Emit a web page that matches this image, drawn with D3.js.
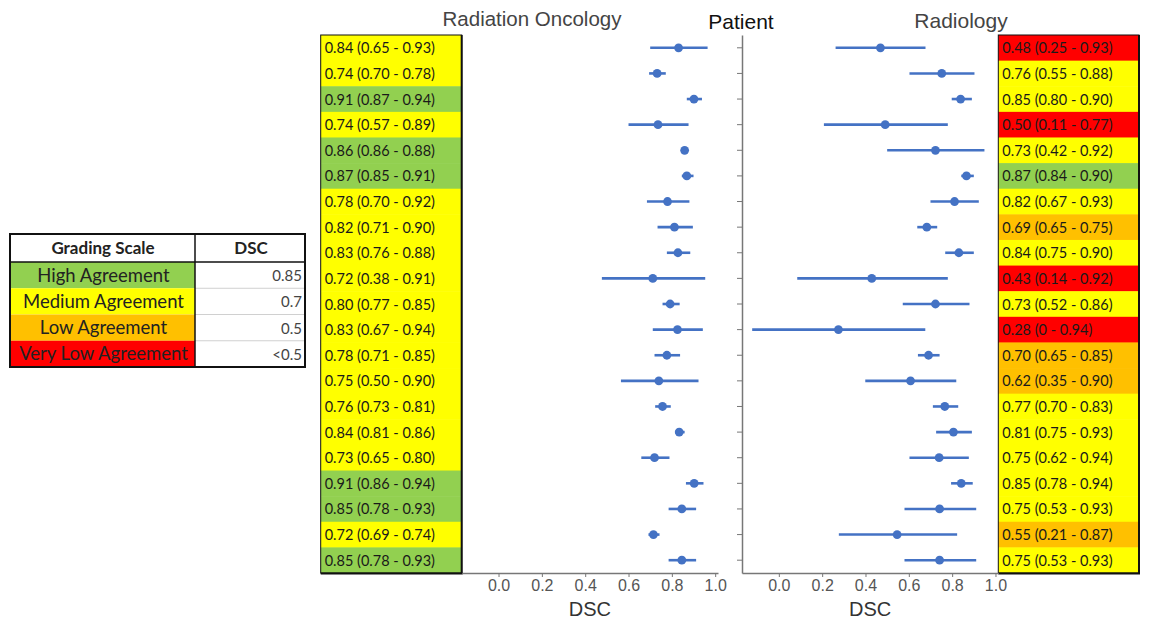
<!DOCTYPE html>
<html><head><meta charset="utf-8">
<script src="https://cdn.jsdelivr.net/npm/d3@7/dist/d3.min.js"></script>
<style>body{margin:0;background:#fff}svg{display:block}</style>
</head><body>
<svg id="c" width="1151" height="622"></svg>
<script>
const patients = d3.range(1, 22).map(String);

const roMean = [0.831,0.732,0.902,0.736,0.859,0.869,0.780,0.812,0.828,0.712,0.792,0.826,0.777,0.740,0.757,0.834,0.720,0.903,0.846,0.715,0.846];
const roLo   = [0.700,0.695,0.869,0.600,0.850,0.846,0.685,0.734,0.777,0.477,0.757,0.712,0.720,0.565,0.723,0.815,0.659,0.865,0.785,0.692,0.785];
const roHi   = [0.965,0.772,0.939,0.877,0.868,0.900,0.881,0.897,0.885,0.954,0.836,0.943,0.838,0.923,0.795,0.859,0.789,0.946,0.912,0.743,0.912];

const radMean = [0.469,0.752,0.839,0.491,0.723,0.866,0.811,0.683,0.831,0.429,0.723,0.275,0.691,0.608,0.766,0.806,0.740,0.842,0.742,0.546,0.742];
const radLo   = [0.262,0.603,0.798,0.208,0.500,0.842,0.700,0.639,0.768,0.085,0.572,-0.123,0.642,0.399,0.711,0.726,0.603,0.795,0.580,0.277,0.580];
const radHi   = [0.677,0.903,0.891,0.780,0.949,0.900,0.923,0.731,0.900,0.780,0.880,0.676,0.742,0.819,0.828,0.891,0.877,0.895,0.911,0.823,0.911];

const roText = ["0.84 (0.65 - 0.93)","0.74 (0.70 - 0.78)","0.91 (0.87 - 0.94)","0.74 (0.57 - 0.89)","0.86 (0.86 - 0.88)","0.87 (0.85 - 0.91)","0.78 (0.70 - 0.92)","0.82 (0.71 - 0.90)","0.83 (0.76 - 0.88)","0.72 (0.38 - 0.91)","0.80 (0.77 - 0.85)","0.83 (0.67 - 0.94)","0.78 (0.71 - 0.85)","0.75 (0.50 - 0.90)","0.76 (0.73 - 0.81)","0.84 (0.81 - 0.86)","0.73 (0.65 - 0.80)","0.91 (0.86 - 0.94)","0.85 (0.78 - 0.93)","0.72 (0.69 - 0.74)","0.85 (0.78 - 0.93)"];
const roGrade = ["M","M","H","M","H","H","M","M","M","M","M","M","M","M","M","M","M","H","H","M","H"];

const radText = ["0.48 (0.25 - 0.93)","0.76 (0.55 - 0.88)","0.85 (0.80 - 0.90)","0.50 (0.11 - 0.77)","0.73 (0.42 - 0.92)","0.87 (0.84 - 0.90)","0.82 (0.67 - 0.93)","0.69 (0.65 - 0.75)","0.84 (0.75 - 0.90)","0.43 (0.14 - 0.92)","0.73 (0.52 - 0.86)","0.28 (0 - 0.94)","0.70 (0.65 - 0.85)","0.62 (0.35 - 0.90)","0.77 (0.70 - 0.83)","0.81 (0.75 - 0.93)","0.75 (0.62 - 0.94)","0.85 (0.78 - 0.94)","0.75 (0.53 - 0.93)","0.55 (0.21 - 0.87)","0.75 (0.53 - 0.93)"];
const radGrade = ["V","M","M","V","M","H","M","L","M","V","M","V","L","L","M","M","M","M","M","L","M"];

const scaleLabels = ["High Agreement","Medium Agreement","Low Agreement","Very Low Agreement"];
const scaleCodes = ["H","M","L","V"];
const scaleValues = ["0.85","0.7","0.5","<0.5"];
const xTicks = [0, 0.2, 0.4, 0.6, 0.8, 1.0];

const gradeColor = d3.scaleOrdinal().domain(scaleCodes).range(["#92D050","#FFFF00","#FFC000","#FF0000"]);

const svg = d3.select("#c");
const blue = "#4472C4";
const boxFont = "Lato, 'Open Sans', sans-serif";
const arial = "'Liberation Sans', Arial, sans-serif";

const y = d3.scaleBand().domain(patients).range([35, 573]).paddingInner(0).paddingOuter(0);
const yc = d => y(d) + y.bandwidth()/2;

const domainX = [-0.17, 1.013];
const xL = d3.scaleLinear().domain(domainX).range([461.7, 718]);
const xR = d3.scaleLinear().domain(domainX).range([742, 998.3]);

// ---------- Value tables ----------
function drawTable(x0, x1, texts, grades) {
  const g = svg.append("g");
  g.selectAll("rect.cell").data(patients).join("rect")
    .attr("x", x0).attr("y", d => y(d)).attr("width", x1 - x0).attr("height", y.bandwidth() + 0.5)
    .attr("fill", (d,i) => gradeColor(grades[i]));
  g.selectAll("text").data(patients).join("text")
    .attr("x", x0 + 4).attr("y", d => yc(d) + 5.5)
    .attr("font-family", boxFont).attr("font-size", 14.5).attr("fill", "#1a1a1a")
    .text((d,i) => texts[i]);
  g.append("rect").attr("x", x0).attr("y", 35).attr("width", x1 - x0).attr("height", 538)
    .attr("fill", "none").attr("stroke", "#111").attr("stroke-width", 1);
  g.append("line").attr("x1", x1).attr("x2", x1).attr("y1", 35).attr("y2", 574)
    .attr("stroke", "#111").attr("stroke-width", 2);
  g.append("line").attr("x1", x0).attr("x2", x1+1).attr("y1", 573.5).attr("y2", 573.5)
    .attr("stroke", "#111").attr("stroke-width", 2);
}
drawTable(320.7, 461.7, roText, roGrade);
drawTable(998.3, 1139, radText, radGrade);

// ---------- Axes ----------
function drawXAxis(x) {
  const g = svg.append("g").attr("transform", "translate(0,573)")
    .call(d3.axisBottom(x).tickValues(xTicks).tickFormat(d3.format(".1f")).tickSize(4).tickSizeOuter(0));
  g.select(".domain").attr("stroke", "#777").attr("stroke-width", 1.5);
  g.selectAll(".tick line").attr("stroke", "#777");
  g.selectAll(".tick text").attr("font-family", arial).attr("font-size", 16).attr("fill", "#555");
  const r = x.range();
  svg.append("text").attr("x", (r[0] + r[1]) / 2).attr("y", 616).attr("text-anchor", "middle")
    .attr("font-family", arial).attr("font-size", 20).attr("fill", "#333").text("DSC");
}
drawXAxis(xL);
drawXAxis(xR);

const yAx = svg.append("g").attr("transform", "translate(742,0)")
  .call(d3.axisLeft(y).tickSize(5).tickSizeOuter(0).tickFormat(""));
yAx.select(".domain").attr("stroke", "#777").attr("stroke-width", 1.5);
yAx.selectAll(".tick line").attr("stroke", "#777");

// ---------- Intervals ----------
function drawSeries(x, mean, lo, hi) {
  const g = svg.append("g");
  g.selectAll("line").data(patients).join("line")
    .attr("x1", (d,i) => x(lo[i])).attr("x2", (d,i) => x(hi[i]))
    .attr("y1", d => yc(d)).attr("y2", d => yc(d))
    .attr("stroke", blue).attr("stroke-width", 2.6);
  g.selectAll("circle").data(patients).join("circle")
    .attr("cx", (d,i) => x(mean[i])).attr("cy", d => yc(d)).attr("r", 4.4)
    .attr("fill", blue);
}
drawSeries(xL, roMean, roLo, roHi);
drawSeries(xR, radMean, radLo, radHi);

// ---------- Titles ----------
svg.append("text").attr("x", 532).attr("y", 26).attr("text-anchor", "middle")
  .attr("font-family", arial).attr("font-size", 20.5).attr("fill", "#444").text("Radiation Oncology");
svg.append("text").attr("x", 741).attr("y", 29).attr("text-anchor", "middle")
  .attr("font-family", arial).attr("font-size", 21).attr("fill", "#111").text("Patient");
svg.append("text").attr("x", 961).attr("y", 28).attr("text-anchor", "middle")
  .attr("font-family", arial).attr("font-size", 21).attr("fill", "#444").text("Radiology");

// ---------- Grading scale table ----------
const lg = svg.append("g");
const lx0 = 10, lx1 = 195, lx2 = 305, ly0 = 234, ly1 = 262, lyEnd = 367;
const ly = d3.scaleBand().domain(scaleCodes).range([ly1, lyEnd]);
lg.selectAll("rect.c").data(scaleCodes).join("rect")
  .attr("x", lx0).attr("y", d => ly(d)).attr("width", lx1 - lx0).attr("height", ly.bandwidth())
  .attr("fill", d => gradeColor(d));
lg.selectAll("line.h").data(scaleCodes.slice(1)).join("line")
  .attr("x1", lx1).attr("x2", lx2).attr("y1", d => ly(d)).attr("y2", d => ly(d))
  .attr("stroke", "#d0d0d0").attr("stroke-width", 1);
lg.selectAll("text.l").data(scaleCodes).join("text")
  .attr("x", (lx0 + lx1) / 2 + 1).attr("y", d => ly(d) + ly.bandwidth()/2 + 6.5).attr("text-anchor", "middle")
  .attr("font-family", boxFont).attr("font-size", 18.5).attr("fill", "#222")
  .text((d,i) => scaleLabels[i]);
lg.selectAll("text.v").data(scaleCodes).join("text")
  .attr("x", lx2 - 3).attr("y", d => ly(d) + ly.bandwidth()/2 + 6).attr("text-anchor", "end")
  .attr("font-family", boxFont).attr("font-size", 15).attr("fill", "#444")
  .text((d,i) => scaleValues[i]);
lg.append("text").attr("x", 103).attr("y", ly0 + 20).attr("text-anchor", "middle")
  .attr("font-family", boxFont).attr("font-weight", "bold").attr("font-size", 17).attr("fill", "#222").text("Grading Scale");
lg.append("text").attr("x", 251).attr("y", ly0 + 20).attr("text-anchor", "middle")
  .attr("font-family", boxFont).attr("font-weight", "bold").attr("font-size", 17).attr("fill", "#222").text("DSC");
lg.append("line").attr("x1", lx0).attr("x2", lx2).attr("y1", ly1).attr("y2", ly1).attr("stroke", "#111").attr("stroke-width", 1.5);
lg.append("line").attr("x1", lx1).attr("x2", lx1).attr("y1", ly0).attr("y2", lyEnd).attr("stroke", "#111").attr("stroke-width", 1.5);
lg.append("rect").attr("x", lx0).attr("y", ly0).attr("width", lx2 - lx0).attr("height", lyEnd - ly0)
  .attr("fill", "none").attr("stroke", "#111").attr("stroke-width", 2);
</script>
</body></html>
